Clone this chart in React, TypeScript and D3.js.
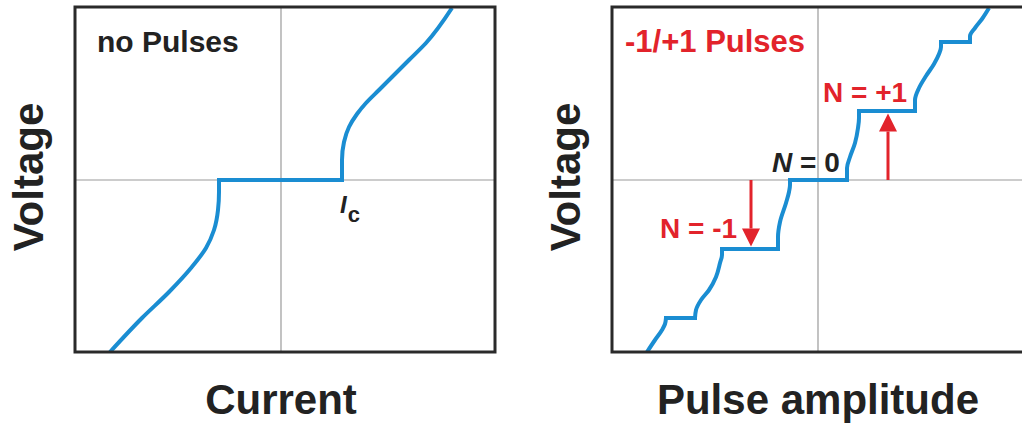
import React from 'react';
import * as d3 from 'd3';

type Pt = [number, number];

// Shared axis domains (arbitrary units)
const xDomain: [number, number] = [-2.06, 2.14];
const voltageDomain: [number, number] = [-1.72, 1.73];

// I–V characteristic without pulses: [current, voltage]
const ivNegativeBranch: Pt[] = [
  [-1.71, -1.72], [-1.39, -1.38], [-1.12, -1.12], [-0.9, -0.88], [-0.75, -0.68],
  [-0.67, -0.5], [-0.63, -0.3], [-0.62, -0.12], [-0.62, 0],
];
const ivZeroVoltage: Pt[] = [[-0.62, 0], [0.61, 0]];
const ivPositiveBranch: Pt[] = [
  [0.61, 0], [0.61, 0.2], [0.63, 0.38], [0.68, 0.53], [0.76, 0.66], [0.85, 0.77],
  [0.98, 0.9], [1.11, 1.03], [1.28, 1.2], [1.45, 1.37], [1.71, 1.72],
];

// Response to -1/+1 pulses: flat plateaus [from amplitude, to amplitude, voltage]
const stepPlateaus: [number, number, number][] = [
  [-1.52, -1.23, -1.38],
  [-0.96, -0.4, -0.69],
  [-0.28, 0.29, 0],
  [0.41, 0.97, 0.69],
  [1.23, 1.52, 1.38],
];
// Transitions between plateaus: [amplitude, voltage]
const stepRisers: Pt[][] = [
  [[-1.71, -1.72], [-1.63, -1.6], [-1.56, -1.5], [-1.53, -1.44], [-1.52, -1.38]],
  [[-1.23, -1.38], [-1.22, -1.3], [-1.17, -1.2], [-1.09, -1.1], [-1.02, -0.97], [-0.98, -0.83], [-0.96, -0.75], [-0.96, -0.69]],
  [[-0.4, -0.69], [-0.4, -0.57], [-0.38, -0.42], [-0.32, -0.23], [-0.29, -0.12], [-0.28, -0.05], [-0.28, 0]],
  [[0.29, 0], [0.29, 0.12], [0.32, 0.23], [0.37, 0.37], [0.4, 0.52], [0.41, 0.62], [0.41, 0.69]],
  [[0.97, 0.69], [0.97, 0.8], [1.01, 0.92], [1.08, 1.04], [1.16, 1.16], [1.21, 1.26], [1.23, 1.33], [1.23, 1.38]],
  [[1.52, 1.38], [1.52, 1.44], [1.57, 1.52], [1.64, 1.61], [1.71, 1.72]],
];

// Pulse arrows: [amplitude, target voltage]
const pulseArrows: Pt[] = [[-0.67, -0.69], [0.7, 0.69]];

// Plateau labels: [text, amplitude, voltage, italic N, colour key]
const plateauLabels: { n: string; x: number; v: number; italic: boolean; red: boolean }[] = [
  { n: '+1', x: 0.05, v: 0.78, italic: false, red: true },
  { n: '0', x: -0.46, v: 0.08, italic: true, red: false },
  { n: '-1', x: -1.58, v: -0.58, italic: false, red: true },
];

const W = 1022;
const H = 425;
const PW = 420;
const PH = 345;
const FONT = '"Liberation Sans", Arial, Helvetica, sans-serif';
const BLUE = '#1a8dd2';
const RED = '#e2232b';
const INK = '#222222';

const x = d3.scaleLinear().domain(xDomain).range([0, PW]);
const y = d3.scaleLinear().domain(voltageDomain).range([PH, 0]);

const branch = d3
  .line<Pt>()
  .x((d) => x(d[0]))
  .y((d) => y(d[1]))
  .curve(d3.curveMonotoneY);
const straight = d3
  .line<Pt>()
  .x((d) => x(d[0]))
  .y((d) => y(d[1]));

function Frame({ id, children }: { id: string; children?: React.ReactNode }) {
  return (
    <g>
      <defs>
        <clipPath id={id}>
          <rect x={0} y={0} width={PW} height={PH} />
        </clipPath>
      </defs>
      <line x1={x(0)} x2={x(0)} y1={0} y2={PH} stroke="#9a9a9a" strokeWidth={1.2} />
      <line x1={0} x2={PW} y1={y(0)} y2={y(0)} stroke="#9a9a9a" strokeWidth={1.2} />
      <g clipPath={`url(#${id})`}>{children}</g>
      <rect x={0} y={0} width={PW} height={PH} fill="none" stroke="#2a2a2a" strokeWidth={3} />
    </g>
  );
}

function AxisTitles({ xTitle }: { xTitle: string }) {
  return (
    <g fontFamily={FONT} fontWeight="bold" fill={INK} fontSize={42}>
      <text x={x(0)} y={407} textAnchor="middle">{xTitle}</text>
      <text transform={`translate(-32,${y(0) - 3}) rotate(-90)`} textAnchor="middle">Voltage</text>
    </g>
  );
}

export default function App() {
  const curveStyle = { fill: 'none', stroke: BLUE, strokeWidth: 4 };
  return (
    <svg
      width={W}
      height={H}
      viewBox={`0 0 ${W} ${H}`}
      style={{ position: 'absolute', left: 0, top: 0, background: '#fff' }}
    >
      {/* Left: current–voltage curve without pulses */}
      <g transform="translate(75,7)">
        <Frame id="clip-iv">
          <path d={branch(ivNegativeBranch) || ''} {...curveStyle} strokeLinecap="butt" />
          <path d={straight(ivZeroVoltage) || ''} {...curveStyle} strokeLinecap="square" />
          <path d={branch(ivPositiveBranch) || ''} {...curveStyle} strokeLinecap="butt" />
        </Frame>
        <text x={22} y={45} fontFamily={FONT} fontWeight="bold" fontSize={30} fill={INK}>no Pulses</text>
        <text x={x(0.59)} y={y(-0.33)} fontFamily={FONT} fontWeight="bold" fill={INK} fontSize={24}>
          <tspan fontStyle="italic">I</tspan>
          <tspan dx={1} dy={9} fontSize={22}>c</tspan>
        </text>
        <AxisTitles xTitle="Current" />
      </g>

      {/* Right: voltage staircase versus pulse amplitude */}
      <g transform="translate(612,7)">
        <Frame id="clip-steps">
          {stepRisers.map((r, i) => (
            <path key={`r${i}`} d={branch(r) || ''} {...curveStyle} strokeLinecap="butt" />
          ))}
          {stepPlateaus.map(([a, b, v], i) => (
            <path key={`p${i}`} d={straight([[a, v], [b, v]]) || ''} {...curveStyle} strokeLinecap="square" />
          ))}
        </Frame>
        {pulseArrows.map(([a, v], i) => {
          const dir = v < 0 ? 1 : -1;
          const tip = y(v) - dir * 2.5;
          const base = tip - dir * 18;
          const cx = x(a);
          return (
            <g key={`a${i}`} fill={RED} stroke="none">
              <line x1={cx} x2={cx} y1={y(0)} y2={base} stroke={RED} strokeWidth={3} />
              <polygon points={`${cx - 9},${base} ${cx + 9},${base} ${cx},${tip}`} />
            </g>
          );
        })}
        <text x={13} y={45} fontFamily={FONT} fontWeight="bold" fontSize={31} fill={RED}>-1/+1 Pulses</text>
        {plateauLabels.map((l) => (
          <text
            key={l.n}
            x={x(l.x)}
            y={y(l.v)}
            fontFamily={FONT}
            fontWeight="bold"
            fontSize={28}
            fill={l.red ? RED : INK}
          >
            <tspan fontStyle={l.italic ? 'italic' : 'normal'}>N</tspan>
            {` = ${l.n}`}
          </text>
        ))}
        <AxisTitles xTitle="Pulse amplitude" />
      </g>
    </svg>
  );
}
